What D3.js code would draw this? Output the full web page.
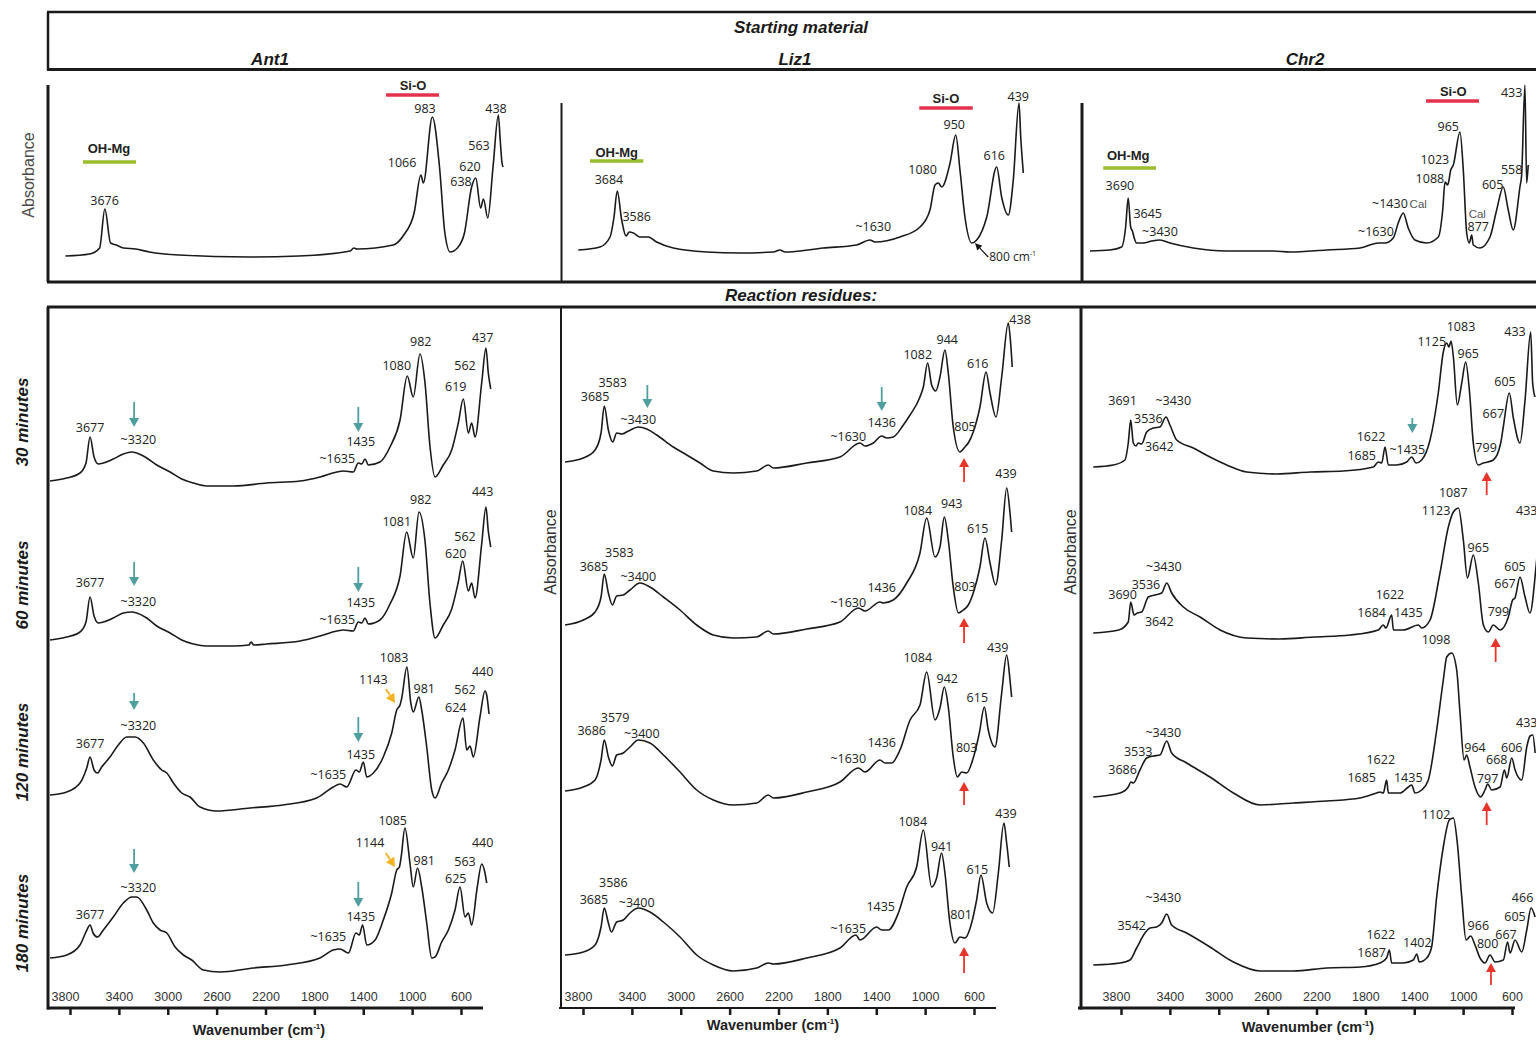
<!DOCTYPE html>
<html><head><meta charset="utf-8">
<script src="https://cdn.jsdelivr.net/npm/d3@7"></script>
<style>
html,body{margin:0;padding:0;background:#fff;}
svg{display:block;}
</style></head><body>
<svg id="c" width="1536" height="1040"></svg>
<script>
// ---------------- DATA ----------------
const sampleNames = ["Ant1", "Liz1", "Chr2"];
const times = ["30 minutes", "60 minutes", "120 minutes", "180 minutes"];
const tickValues = [3800, 3400, 3000, 2600, 2200, 1800, 1400, 1000, 600];

// Starting material spectra [wavenumber, absorbance (a.u.)]
const ant1Start = [[3998,0],[3799,0.02],[3717,0.08],[3674,0.47],[3627,0.13],[3580,0.11],[3520,0.08],[3422,0.07],[3308,0.04],[3066,0.01],[2489,-0.01],[2080,0],[1656,0.05],[1627,0.08],[1600,0.07],[1304,0.11],[1216,0.21],[1131,0.43],[1075,0.81],[1055,0.73],[981,1.39],[922,0.89],[878,0.23],[834,0.04],[775,0.08],[717,0.23],[658,0.69],[624,0.78],[584,0.48],[561,0.57],[525,0.38],[482,0.89],[438,1.41],[423,1.16],[409,0.94],[400,0.89]];
const liz1Start = [[3996,0.03],[3821,0.06],[3740,0.16],[3708,0.36],[3682,0.62],[3646,0.33],[3611,0.17],[3585,0.21],[3552,0.20],[3499,0.16],[3431,0.16],[3364,0.11],[3230,0.05],[2961,0.01],[2692,0],[2423,0.01],[2369,0.03],[2329,0.01],[2020,0.05],[1751,0.08],[1644,0.13],[1603,0.11],[1402,0.16],[1240,0.26],[1160,0.43],[1119,0.68],[1093,0.70],[1065,0.66],[998,0.90],[952,1.18],[918,0.83],[878,0.36],[823,0.10],[783,0.13],[702,0.36],[622,0.86],[582,0.56],[528,0.38],[488,0.73],[442,1.50],[428,1.16],[407,0.80]];
const chr2Start = [[4002,0.01],[3838,0.02],[3742,0.05],[3709,0.25],[3688,0.54],[3668,0.25],[3651,0.20],[3641,0.15],[3619,0.09],[3564,0.09],[3495,0.11],[3427,0.12],[3345,0.09],[3154,0.04],[2880,0.01],[2606,0.01],[2497,0.01],[2360,0],[2059,0.02],[1785,0.04],[1635,0.09],[1580,0.09],[1512,0.14],[1471,0.29],[1430,0.39],[1389,0.24],[1334,0.12],[1238,0.09],[1142,0.15],[1106,0.42],[1087,0.70],[1065,0.67],[1040,0.82],[1019,0.87],[964,1.20],[937,0.82],[909,0.19],[888,0.09],[868,0.17],[855,0.07],[800,0.04],[718,0.15],[663,0.42],[609,0.65],[568,0.42],[527,0.22],[472,0.65],[458,0.77],[431,1.67],[417,0.69],[404,0.87]];

// Reaction residues: Ant1
const ant1_30 = [[4004,0.05],[3867,0.08],[3759,0.13],[3710,0.23],[3677,0.49],[3644,0.29],[3609,0.22],[3568,0.23],[3487,0.27],[3405,0.32],[3336,0.34],[3295,0.33],[3214,0.28],[3132,0.21],[3023,0.14],[2928,0.07],[2833,0.03],[2724,0],[2506,0],[2233,0.03],[1961,0.05],[1798,0.09],[1661,0.14],[1607,0.15],[1526,0.14],[1485,0.23],[1457,0.22],[1430,0.27],[1403,0.21],[1308,0.24],[1226,0.39],[1144,0.66],[1085,1.10],[1036,0.89],[981,1.32],[940,1.03],[899,0.39],[858,0.09],[791,0.21],[722,0.36],[668,0.63],[627,0.87],[586,0.53],[559,0.63],[531,0.49],[477,1.03],[442,1.38],[423,1.13],[403,0.97]];
const ant1_60 = [[4004,0.06],[3867,0.09],[3759,0.14],[3710,0.24],[3677,0.49],[3644,0.30],[3609,0.23],[3568,0.24],[3487,0.28],[3405,0.33],[3336,0.34],[3295,0.33],[3214,0.28],[3132,0.20],[3023,0.13],[2928,0.06],[2833,0.02],[2724,0],[2506,0],[2380,0.01],[2360,0.04],[2340,0.01],[2233,0.02],[1961,0.05],[1798,0.10],[1661,0.15],[1607,0.16],[1526,0.15],[1485,0.24],[1457,0.23],[1430,0.28],[1403,0.22],[1308,0.26],[1226,0.42],[1144,0.70],[1090,1.14],[1036,0.88],[989,1.34],[940,1.05],[899,0.42],[858,0.08],[791,0.21],[722,0.37],[668,0.64],[632,0.85],[586,0.55],[559,0.63],[531,0.48],[477,1.02],[442,1.39],[423,1.15],[403,0.99]];
const ant1_120 = [[4004,0.16],[3867,0.19],[3759,0.28],[3704,0.43],[3677,0.54],[3644,0.41],[3617,0.38],[3582,0.44],[3514,0.54],[3446,0.66],[3377,0.74],[3309,0.74],[3241,0.68],[3160,0.51],[3091,0.41],[3050,0.38],[2996,0.28],[2928,0.18],[2860,0.14],[2778,0.04],[2642,0],[2370,0.03],[2098,0.06],[1825,0.13],[1689,0.24],[1634,0.27],[1580,0.24],[1504,0.41],[1477,0.39],[1444,0.49],[1416,0.34],[1362,0.38],[1281,0.54],[1212,0.78],[1171,1.01],[1144,1.06],[1130,1.13],[1088,1.44],[1056,1.08],[1036,0.99],[990,1.14],[967,1.01],[926,0.64],[885,0.21],[858,0.13],[804,0.28],[749,0.41],[695,0.61],[630,0.93],[599,0.61],[572,0.65],[545,0.54],[491,0.94],[450,1.20],[436,1.16],[417,0.97]];
const ant1_180 = [[4004,0.14],[3867,0.17],[3759,0.27],[3710,0.40],[3677,0.47],[3652,0.39],[3617,0.35],[3568,0.42],[3487,0.55],[3405,0.69],[3336,0.75],[3295,0.75],[3214,0.62],[3160,0.49],[3105,0.42],[3050,0.39],[2982,0.25],[2914,0.17],[2846,0.12],[2751,0.02],[2615,0],[2343,0.04],[2070,0.07],[1798,0.14],[1689,0.22],[1634,0.23],[1566,0.19],[1504,0.39],[1477,0.37],[1450,0.47],[1416,0.27],[1348,0.32],[1281,0.52],[1212,0.79],[1171,1.02],[1149,1.05],[1135,1.15],[1104,1.44],[1063,1.09],[1036,0.85],[1001,1.04],[967,0.85],[926,0.49],[885,0.14],[858,0.15],[804,0.30],[749,0.42],[695,0.62],[654,0.85],[613,0.55],[586,0.59],[559,0.47],[513,0.85],[477,1.08],[450,0.99],[436,0.89]];

// Reaction residues: Liz1
const liz1_30 = [[3999,0.11],[3852,0.15],[3757,0.23],[3709,0.40],[3683,0.67],[3650,0.43],[3615,0.31],[3583,0.40],[3542,0.39],[3489,0.42],[3409,0.46],[3341,0.44],[3261,0.38],[3127,0.26],[3019,0.18],[2912,0.10],[2805,0.02],[2644,0],[2456,0.02],[2362,0.08],[2322,0.05],[2053,0.10],[1785,0.16],[1624,0.30],[1584,0.27],[1517,0.30],[1449,0.37],[1409,0.35],[1356,0.36],[1275,0.48],[1221,0.58],[1141,0.76],[1114,0.86],[1079,1.10],[1047,0.88],[1014,0.82],[980,0.96],[940,1.23],[913,1.00],[873,0.46],[819,0.21],[779,0.26],[752,0.30],[712,0.41],[658,0.66],[609,1.01],[577,0.80],[529,0.56],[483,0.96],[430,1.50],[411,1.30],[398,1.06]];
const liz1_60 = [[3999,0.13],[3852,0.18],[3757,0.26],[3709,0.41],[3683,0.64],[3650,0.45],[3618,0.33],[3583,0.42],[3530,0.43],[3476,0.48],[3396,0.55],[3315,0.51],[3207,0.41],[3073,0.28],[2939,0.13],[2805,0.03],[2644,0],[2456,0.01],[2362,0.07],[2322,0.04],[2053,0.09],[1785,0.16],[1637,0.30],[1584,0.27],[1463,0.36],[1436,0.35],[1356,0.38],[1248,0.55],[1141,0.85],[1087,1.20],[1020,0.81],[980,0.91],[945,1.21],[913,0.98],[873,0.51],[832,0.25],[792,0.28],[752,0.33],[712,0.45],[658,0.71],[618,1.00],[577,0.75],[532,0.53],[483,0.98],[443,1.50],[416,1.25],[403,1.06]];
const liz1_120 = [[3999,0.14],[3852,0.18],[3757,0.25],[3709,0.45],[3683,0.65],[3650,0.48],[3618,0.39],[3583,0.50],[3530,0.52],[3476,0.58],[3409,0.65],[3315,0.62],[3207,0.50],[3073,0.33],[2939,0.15],[2805,0.05],[2644,0],[2456,0.02],[2362,0.10],[2322,0.07],[2053,0.13],[1785,0.23],[1637,0.37],[1584,0.33],[1463,0.45],[1422,0.42],[1369,0.42],[1302,0.55],[1221,0.85],[1141,1.00],[1087,1.33],[1020,0.85],[980,0.97],[945,1.18],[913,0.98],[873,0.48],[840,0.28],[805,0.33],[765,0.32],[712,0.47],[663,0.72],[623,0.98],[591,0.75],[537,0.58],[483,1.12],[443,1.50],[416,1.25],[403,1.08]];
const liz1_180 = [[3999,0.16],[3852,0.19],[3757,0.26],[3709,0.44],[3683,0.63],[3650,0.48],[3626,0.39],[3583,0.49],[3530,0.51],[3476,0.58],[3409,0.63],[3315,0.59],[3207,0.49],[3073,0.34],[2939,0.16],[2805,0.06],[2644,0],[2456,0.03],[2362,0.08],[2322,0.07],[2053,0.13],[1785,0.23],[1657,0.36],[1624,0.31],[1490,0.44],[1449,0.41],[1396,0.41],[1315,0.58],[1248,0.84],[1168,1.04],[1114,1.41],[1047,0.84],[1007,0.93],[967,1.18],[940,0.98],[900,0.48],[859,0.28],[819,0.34],[779,0.33],[725,0.48],[685,0.71],[650,0.96],[604,0.68],[556,0.58],[510,0.98],[465,1.48],[443,1.28],[422,1.04]];

// Reaction residues: Chr2
const chr2_30 = [[4029,0.07],[3866,0.09],[3771,0.14],[3744,0.31],[3724,0.54],[3703,0.31],[3681,0.28],[3663,0.31],[3635,0.30],[3594,0.42],[3540,0.46],[3486,0.47],[3437,0.57],[3405,0.49],[3350,0.34],[3215,0.26],[3079,0.17],[2943,0.09],[2781,0.02],[2537,0],[2265,0.02],[1995,0.03],[1750,0.07],[1710,0.12],[1682,0.11],[1655,0.27],[1628,0.09],[1560,0.09],[1479,0.12],[1438,0.17],[1403,0.11],[1357,0.14],[1289,0.34],[1222,0.81],[1181,1.22],[1153,1.31],[1135,1.27],[1118,1.33],[1099,1.17],[1067,0.69],[1031,0.91],[999,1.12],[969,0.84],[937,0.31],[896,0.09],[855,0.11],[820,0.12],[774,0.14],[714,0.31],[693,0.47],[644,0.81],[611,0.56],[557,0.31],[516,0.74],[470,1.42],[454,0.91],[435,0.77]];
const chr2_60 = [[4029,0.06],[3822,0.09],[3744,0.17],[3724,0.37],[3697,0.24],[3670,0.26],[3635,0.27],[3581,0.42],[3527,0.44],[3472,0.46],[3431,0.56],[3391,0.46],[3296,0.32],[3160,0.22],[2997,0.09],[2781,0.01],[2510,0],[2238,0.02],[1940,0.04],[1710,0.09],[1669,0.14],[1648,0.11],[1601,0.24],[1587,0.09],[1506,0.09],[1384,0.14],[1357,0.11],[1289,0.19],[1208,0.66],[1140,1.12],[1099,1.27],[1058,1.31],[1018,0.99],[985,0.61],[937,0.84],[896,0.56],[855,0.14],[815,0.07],[774,0.14],[719,0.09],[652,0.22],[617,0.39],[598,0.41],[557,0.62],[516,0.42],[476,0.26],[427,0.72],[400,1.10]];
const chr2_120 = [[4029,0.08],[3811,0.12],[3744,0.18],[3722,0.23],[3703,0.22],[3649,0.35],[3594,0.47],[3540,0.49],[3486,0.50],[3431,0.64],[3391,0.52],[3269,0.42],[3079,0.28],[2889,0.12],[2672,0],[2401,0.02],[2130,0.04],[1858,0.07],[1723,0.12],[1696,0.13],[1669,0.12],[1642,0.25],[1628,0.12],[1533,0.12],[1465,0.18],[1438,0.20],[1411,0.12],[1357,0.15],[1303,0.25],[1235,0.75],[1181,1.25],[1153,1.48],[1113,1.52],[1072,1.35],[1045,0.92],[1012,0.45],[991,0.50],[964,0.38],[923,0.18],[877,0.08],[842,0.15],[820,0.21],[787,0.15],[719,0.18],[684,0.35],[665,0.27],[624,0.47],[597,0.35],[543,0.25],[502,0.58],[475,0.69],[453,0.70],[434,0.52]];
const chr2_180 = [[4029,0.06],[3811,0.08],[3730,0.11],[3676,0.23],[3608,0.38],[3567,0.43],[3513,0.44],[3472,0.48],[3431,0.57],[3391,0.46],[3269,0.38],[3079,0.24],[2889,0.09],[2672,0],[2401,0],[2130,0.03],[1858,0.04],[1696,0.08],[1642,0.13],[1620,0.21],[1601,0.08],[1506,0.08],[1425,0.11],[1397,0.17],[1376,0.09],[1316,0.13],[1276,0.24],[1235,0.74],[1181,1.24],[1132,1.51],[1099,1.53],[1067,1.28],[1031,0.74],[996,0.31],[958,0.35],[923,0.26],[882,0.13],[842,0.08],[801,0.16],[760,0.09],[693,0.11],[658,0.29],[638,0.18],[597,0.31],[543,0.19],[502,0.41],[467,0.63],[434,0.54]];

// Peak labels [text, wavenumber, absorbance, style]
const ant1StartLabels = [["3676",3676,0.55],["1066",1230,0.93],["983",1041,1.47],["620",671,0.89],["638",745,0.74],["563",597,1.10],["438",457,1.47]];
const liz1StartLabels = [["3684",3749,0.73],["3586",3525,0.36],["~1630",1617,0.26],["1080",1219,0.83],["950",964,1.28],["616",641,0.97],["439",448,1.56]];
const chr2StartLabels = [["3690",3756,0.66],["3645",3528,0.38],["~3430",3427,0.20],["~1630",1654,0.20],["~1430",1539,0.48],["Cal",1307,0.48,"cal"],["1023",1170,0.92],["1088",1211,0.73],["965",1060,1.25],["433",540,1.59],["558",540,0.82],["605",696,0.67],["Cal",822,0.38,"cal"],["877",814,0.25]];
// band labels [text, wavenumber, absorbance] and bands [from, to, absorbance]
const bandLabels = [[["OH-Mg",3640,1.08],["Si-O",1140,1.71]],[["OH-Mg",3686,1.01],["Si-O",1031,1.55]],[["OH-Mg",3688,0.97],["Si-O",1019,1.61]]];
const ohBands = [[3854,3418,0.94],[3902,3472,0.92],[3893,3460,0.84]];
const siBands = [[1362,926,1.61],[1246,815,1.45],[1243,808,1.51]];

const ant1ResLabels = [
 [["3677",3677,0.58],["~3320",3282,0.46],["1435",1465,0.44],["~1635",1657,0.27],["1080",1171,1.20],["982",975,1.44],["562",613,1.20],["619",689,0.99],["437",469,1.48]],
 [["3677",3677,0.63],["~3320",3282,0.44],["1435",1465,0.43],["~1635",1657,0.26],["1081",1171,1.24],["982",975,1.46],["562",613,1.09],["620",689,0.92],["443",469,1.54]],
 [["3677",3677,0.67],["~3320",3282,0.85],["1435",1465,0.56],["~1635",1730,0.36],["1143",1362,1.31],["1083",1193,1.53],["981",946,1.22],["562",613,1.21],["624",689,1.03],["440",469,1.39]],
 [["3677",3677,0.57],["~3320",3282,0.84],["1435",1465,0.55],["~1635",1730,0.35],["1144",1389,1.29],["1085",1204,1.51],["981",946,1.11],["563",613,1.10],["625",689,0.93],["440",469,1.29]]
];
const liz1ResLabels = [
 [["3583",3615,0.90],["3685",3757,0.76],["~3430",3409,0.53],["~1630",1718,0.36],["1436",1449,0.50],["1082",1159,1.18],["944",921,1.33],["616",676,1.09],["805",778,0.46],["438",335,1.53]],
 [["3583",3562,0.85],["3685",3766,0.71],["~3400",3409,0.61],["~1630",1718,0.35],["1436",1449,0.50],["1084",1159,1.27],["943",885,1.34],["615",676,1.09],["803",778,0.51],["439",448,1.64]],
 [["3579",3596,0.87],["3686",3784,0.74],["~3400",3381,0.71],["~1630",1718,0.46],["1436",1449,0.62],["1084",1159,1.47],["942",921,1.26],["615",679,1.07],["803",765,0.57],["439",515,1.57]],
 [["3586",3610,0.88],["3685",3766,0.71],["~3400",3422,0.68],["~1635",1718,0.42],["1435",1457,0.64],["1084",1199,1.49],["941",966,1.24],["615",679,1.01],["801",810,0.56],["439",448,1.57]]
];
const chr2ResLabels = [
 [["3691",3790,0.73],["~3430",3378,0.73],["3536",3581,0.55],["3642",3492,0.27],["1622",1769,0.37],["1685",1845,0.18],["~1435",1474,0.24],["1125",1275,1.32],["1083",1037,1.47],["965",978,1.20],["433",598,1.42],["605",679,0.92],["667",774,0.60],["799",833,0.26]],
 [["1087",1100,1.46],["1123",1240,1.28],["433",502,1.28],["965",896,0.91],["~3430",3454,0.72],["3536",3600,0.54],["3690",3790,0.44],["3642",3492,0.17],["1622",1615,0.44],["1684",1764,0.26],["1435",1466,0.26],["605",598,0.72],["667",679,0.55],["799",733,0.27]],
 [["1098",1240,1.65],["~3430",3459,0.72],["3533",3663,0.53],["3686",3790,0.35],["1622",1690,0.45],["1685",1845,0.27],["1435",1466,0.27],["964",923,0.57],["606",624,0.57],["668",746,0.45],["797",820,0.26],["433",502,0.82]],
 [["1102",1240,1.56],["~3430",3459,0.73],["3542",3716,0.45],["1622",1690,0.36],["1687",1764,0.18],["1402",1392,0.28],["966",896,0.45],["800",820,0.27],["667",671,0.36],["605",598,0.54],["466",536,0.73]]
];

// Arrows [color, wavenumber tail, absorbance tail, wavenumber head, absorbance head]
const ant1Arrows = [
 [["teal",3317,0.84,3317,0.59],["teal",1485,0.79,1485,0.54]],
 [["teal",3317,0.84,3317,0.60],["teal",1485,0.79,1485,0.54]],
 [["teal",3317,1.18,3317,1.01],["teal",1485,0.94,1485,0.69],["orange",1261,1.22,1185,1.08]],
 [["teal",3317,1.23,3317,0.99],["teal",1485,0.90,1485,0.65],["orange",1261,1.19,1185,1.05]]
];
const liz1Arrows = [
 [["teal",3336,0.88,3336,0.65],["teal",1449,0.86,1449,0.62],["red",786,-0.09,786,0.15]],
 [["red",786,-0.05,786,0.20]],
 [["red",786,0.00,786,0.23]],
 [["red",786,-0.02,786,0.24]]
];
const chr2Arrows = [
 [["teal",1433,0.56,1433,0.41],["red",828,-0.21,828,0.02]],
 [["red",755,-0.23,755,0.01]],
 [["red",828,-0.20,828,0.03]],
 [["red",793,-0.14,793,0.08]]
];
const liz1StartArrow = ["black",690,-0.04,797,0.10];

// ---------------- LAYOUT ----------------
const svg = d3.select("#c");
const SANS = "'Liberation Sans', Arial, Helvetica, sans-serif";
const NUM = "'Open Sans', 'Liberation Sans', sans-serif";
const INK = "#1a1a1a";
const COLORS = {teal:"#4f9f9f", red:"#e8352b", orange:"#f3b223", black:"#1a1a1a"};
const AXIS_Y = 1008;

const panels = [
  {start:{range:[65.2,503.0], ref:256, data:ant1Start, labels:ant1StartLabels},
   res:{range:[50.5,491.1], axis:[70,461], refs:[486,646,811,972], data:[ant1_30,ant1_60,ant1_120,ant1_180], labels:ant1ResLabels, arrows:ant1Arrows},
   title:[270,59], wl:[259,1030]},
  {start:{range:[577.8,1024.2], ref:253, data:liz1Start, labels:liz1StartLabels},
   res:{range:[564.9,1012.0], axis:[583,974], refs:[473,638,805,971], data:[liz1_30,liz1_60,liz1_120,liz1_180], labels:liz1ResLabels, arrows:liz1Arrows},
   title:[795,59], wl:[773,1025]},
  {start:{range:[1090.2,1528.7], ref:252, data:chr2Start, labels:chr2StartLabels},
   res:{range:[1096.8,1539.3], axis:[1121,1512], refs:[474,639,805,971], data:[chr2_30,chr2_60,chr2_120,chr2_180], labels:chr2ResLabels, arrows:chr2Arrows},
   title:[1305,59], wl:[1308,1027]}
];

function line(x1,y1,x2,y2,w){
  svg.append("line").attr("x1",x1).attr("y1",y1).attr("x2",x2).attr("y2",y2)
    .attr("stroke",INK).attr("stroke-width",w).attr("stroke-linecap","butt");
}
function text(t,x,y,opts){
  opts = opts||{};
  const el = svg.append("text").attr("x",x).attr("y",y)
    .attr("font-family",opts.family||SANS).attr("font-size",opts.size||16)
    .attr("font-weight",opts.weight||"normal").attr("font-style",opts.style||"normal")
    .attr("fill",opts.fill||INK).attr("text-anchor",opts.anchor||"middle")
    .attr("dy",opts.dy||"0.35em");
  if(opts.rotate) el.attr("transform",`rotate(-90,${x},${y})`);
  el.text(t);
  return el;
}

// Frames
line(47,12,1536,12,2.5);
line(47,69.5,1536,69.5,3);
line(48,12,48,70,2.5);
line(48,85,48,282,3);
line(561.5,103,561.5,282,2);
line(1082,103,1082,282,3);
line(47,282,1536,282,3);
line(47,307,1536,307,3);
line(48,307,48,1009.5,3);
line(561,307,561,1009,2);
line(1081,307,1081,1009.5,3);
line(47,AXIS_Y,483,AXIS_Y,3);
line(559,AXIS_Y,996,AXIS_Y,2);
line(1078,AXIS_Y,1515,AXIS_Y,3);

// Headings
const titleOpts = {size:17, weight:"bold", style:"italic"};
text("Starting material",801,27,titleOpts);
text("Reaction residues:",801,295,titleOpts);
sampleNames.forEach((n,i)=> text(n, panels[i].title[0], panels[i].title[1], titleOpts));
const rowY = [422,585,752,923];
times.forEach((t,i)=> text(t,22,rowY[i],{size:17,weight:"bold",style:"italic",rotate:true}));
text("Absorbance",28,175,{size:16,fill:"#4a4a4a",rotate:true});
text("Absorbance",550,552,{size:16,fill:"#333",rotate:true});
text("Absorbance",1070,552,{size:16,fill:"#333",rotate:true});

function arrow(x1,y1,x2,y2,color){
  const dx=x2-x1, dy=y2-y1, L=Math.hypot(dx,dy), ux=dx/L, uy=dy/L;
  const hl = color==="black"?7:9, hw = color==="black"?3.5:5;
  const bx=x2-ux*hl, by=y2-uy*hl;
  svg.append("line").attr("x1",x1).attr("y1",y1).attr("x2",bx).attr("y2",by)
    .attr("stroke",COLORS[color]).attr("stroke-width",color==="black"?1.3:1.8);
  svg.append("path").attr("d",`M${x2},${y2}L${bx-uy*hw},${by+ux*hw}L${bx+uy*hw},${by-ux*hw}Z`)
    .attr("fill",COLORS[color]);
}

function drawSpectrum(data,x,y){
  const gen = d3.line().x(d=>x(d[0])).y(d=>y(d[1])).curve(d3.curveMonotoneX);
  svg.append("path").datum(data).attr("d",gen).attr("fill","none")
    .attr("stroke",INK).attr("stroke-width",1.6).attr("stroke-linejoin","round");
}
function drawLabels(labels,x,y){
  labels.forEach(l=>{
    const cal = l[3]==="cal";
    text(l[0], x(l[1]), y(l[2]), {family: cal?SANS:NUM, size: cal?11.5:12.5, fill: cal?"#555":"#222"});
  });
}

panels.forEach((p,i)=>{
  // starting material
  const xs = d3.scaleLinear().domain([4000,400]).range(p.start.range);
  const ys = d3.scaleLinear().domain([0,1]).range([p.start.ref,p.start.ref-100]);
  drawSpectrum(p.start.data,xs,ys);
  drawLabels(p.start.labels,xs,ys);
  const oh = ohBands[i], si = siBands[i];
  svg.append("line").attr("x1",xs(oh[0])).attr("x2",xs(oh[1])).attr("y1",ys(oh[2])).attr("y2",ys(oh[2]))
     .attr("stroke","#9bbd2b").attr("stroke-width",3.5);
  svg.append("line").attr("x1",xs(si[0])).attr("x2",xs(si[1])).attr("y1",ys(si[2])).attr("y2",ys(si[2]))
     .attr("stroke","#e3324c").attr("stroke-width",3.5);
  bandLabels[i].forEach(b=> text(b[0],xs(b[1]),ys(b[2]),{size:13,weight:"bold",fill:"#222"}));
  if(i===1){
    const a = liz1StartArrow;
    arrow(xs(a[1]),ys(a[2]),xs(a[3]),ys(a[4]),a[0]);
    const t = text("800 cm",xs(a[1])+1,ys(a[2]),{family:NUM,size:12,anchor:"start",fill:"#222"});
    t.append("tspan").attr("dy",-5).attr("font-size",7).text("-1");
  }

  // reaction residues
  const xr = d3.scaleLinear().domain([4000,400]).range(p.res.range);
  p.res.data.forEach((d,k)=>{
    const ref = p.res.refs[k];
    const yr = d3.scaleLinear().domain([0,1]).range([ref,ref-100]);
    drawSpectrum(d,xr,yr);
    drawLabels(p.res.labels[k],xr,yr);
    p.res.arrows[k].forEach(a=> arrow(xr(a[1]),yr(a[2]),xr(a[3]),yr(a[4]),a[0]));
  });

  // axis
  const ax = d3.scaleLinear().domain([3800,600]).range(p.res.axis);
  const g = svg.append("g").attr("transform",`translate(0,${AXIS_Y})`)
    .call(d3.axisBottom(ax).tickValues(tickValues).tickSize(7).tickSizeOuter(0).tickFormat(d3.format("d")));
  g.select(".domain").remove();
  g.selectAll(".tick line").attr("stroke",INK).attr("stroke-width",2.5);
  g.selectAll(".tick text").attr("y",-7).attr("dy","0").attr("font-family",SANS)
    .attr("font-size",12.5).attr("fill","#333")
    .attr("dx",d=> d===3800 ? -5 : 0);
  const wl = text("Wavenumber (cm",p.wl[0],p.wl[1],{size:14.5,weight:"bold",fill:"#222"});
  wl.append("tspan").attr("dy",-6).attr("font-size",8).text("-1");
  wl.append("tspan").attr("dy",6).text(")");
});
</script>
</body></html>
